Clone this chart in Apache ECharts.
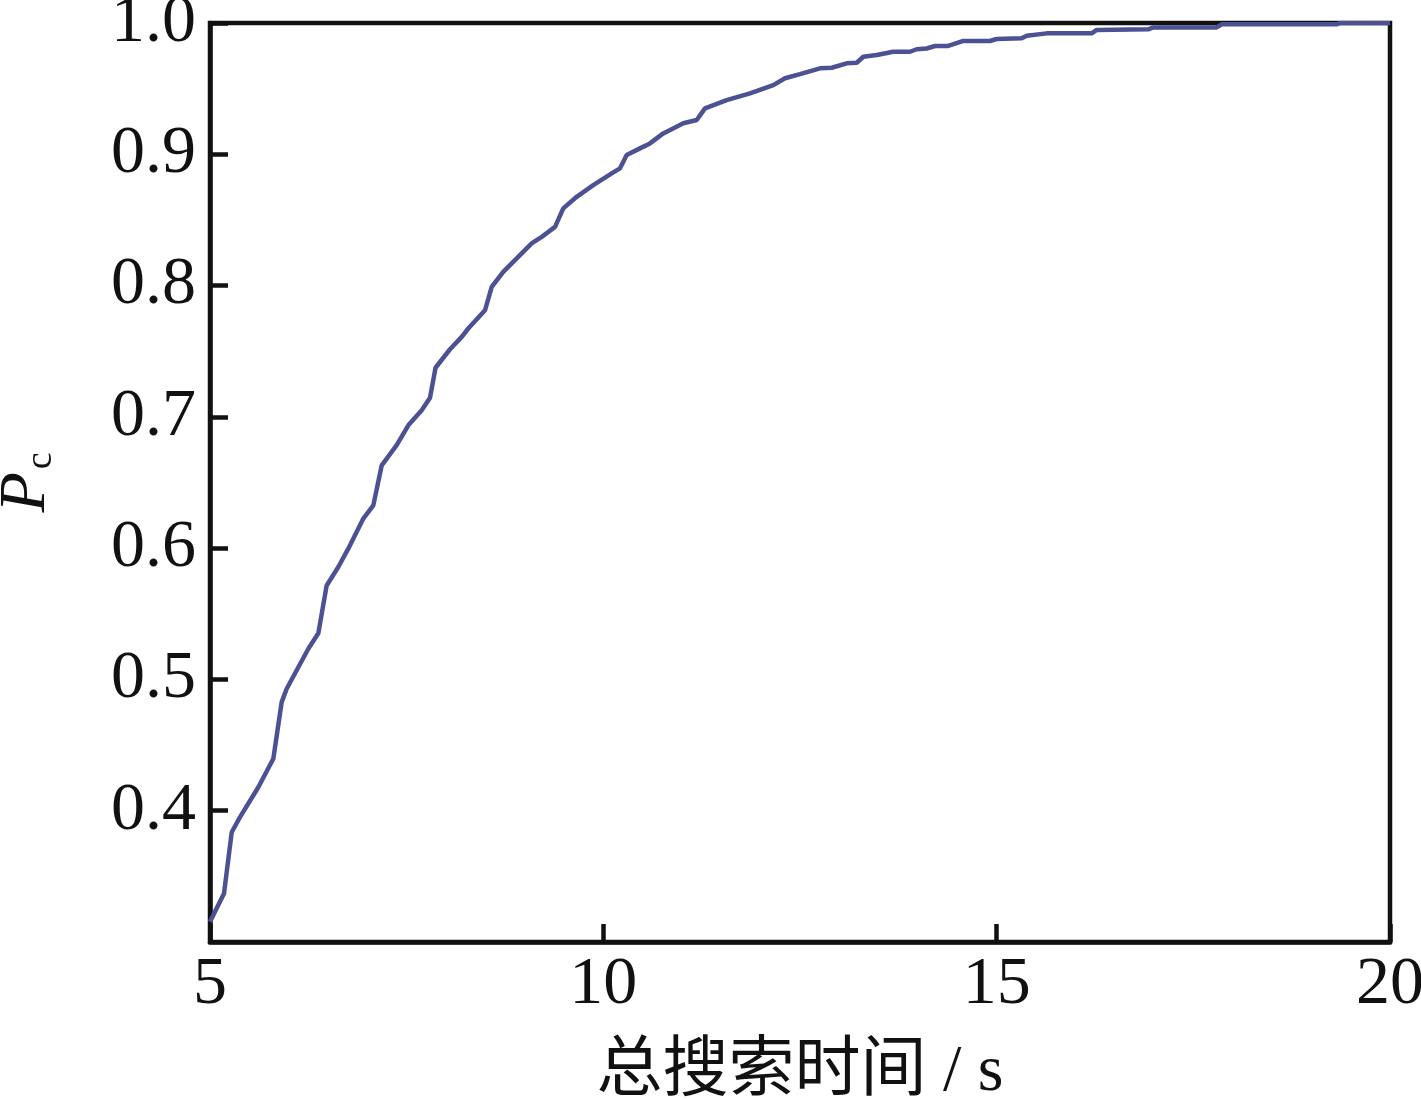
<!DOCTYPE html>
<html>
<head>
<meta charset="utf-8">
<script src="https://cdn.jsdelivr.net/npm/echarts@6/dist/echarts.min.js"></script>
<style>
html,body{margin:0;padding:0;background:#fff;}
#chart{width:1421px;height:1100px;}
</style>
</head>
<body>
<div id="chart"></div>
<script>
// Data
const searchTime = [5.00,5.178,5.276,5.381,5.614,5.805,5.911,5.975,6.250,6.377,6.483,6.631,6.758,6.949,7.076,7.183,7.373,7.521,7.691,7.797,7.867,8.051,8.200,8.283,8.496,8.581,8.728,8.899,9.089,9.217,9.386,9.491,9.661,9.872,10.106,10.212,10.297,10.466,10.593,10.762,11.017,11.187,11.292,11.568,11.864,12.161,12.309,12.500,12.754,12.903,13.094,13.221,13.305,13.475,13.686,13.898,13.983,14.110,14.216,14.385,14.576,14.915,15.000,15.318,15.382,15.636,16.208,16.272,16.928,16.991,17.797,17.860,19.322,19.364,20.00];
const pc = [0.3155,0.3369,0.3836,0.3951,0.4179,0.4396,0.4827,0.4929,0.5234,0.5351,0.5716,0.5856,0.5996,0.6225,0.6326,0.6631,0.6784,0.6936,0.7050,0.7146,0.7374,0.7515,0.7609,0.7673,0.7812,0.7990,0.8104,0.8207,0.8321,0.8371,0.8447,0.8588,0.8676,0.8765,0.8854,0.8893,0.8994,0.9045,0.9083,0.9159,0.9236,0.9261,0.9350,0.9413,0.9464,0.9527,0.9579,0.9611,0.9655,0.9659,0.9693,0.9697,0.9743,0.9756,0.9781,0.9781,0.9800,0.9806,0.9825,0.9825,0.9863,0.9863,0.9878,0.9883,0.9903,0.9921,0.9921,0.9947,0.9952,0.9966,0.9966,0.9990,0.9990,1.0,1.0];
const xTicks = {min:5, max:20, interval:5};
const yTicks = {min:0.3, max:1.0, interval:0.1};
const xName = '总搜索时间 / s';

const chart = echarts.init(document.getElementById('chart'), null, {renderer:'canvas'});
const font = '"Liberation Serif", "Times New Roman", "Noto Sans CJK SC", serif';
chart.setOption({
  backgroundColor:'#fff',
  animation:false,
  grid:{left:210, right:31, top:23, bottom:158, outerBoundsMode:'none', containLabel:false,
    show:true, borderColor:'#111', borderWidth:4.5, backgroundColor:'transparent'},
  xAxis:{
    type:'value', min:xTicks.min, max:xTicks.max, interval:xTicks.interval,
    axisLine:{show:true, lineStyle:{color:'#111', width:4.5}},
    axisTick:{show:true, inside:true, length:18, lineStyle:{color:'#111', width:4.5}},
    splitLine:{show:false},
    axisLabel:{color:'#111', fontFamily:font, fontSize:68, margin:9},
    name:xName, nameLocation:'middle', nameGap:98,
    nameTextStyle:{color:'#111', fontFamily:font, fontSize:66}
  },
  yAxis:{
    type:'value', min:yTicks.min, max:yTicks.max, interval:yTicks.interval,
    axisLine:{show:true, lineStyle:{color:'#111', width:4.5}},
    axisTick:{show:true, inside:true, length:18, lineStyle:{color:'#111', width:4.5}},
    splitLine:{show:false},
    axisLabel:{color:'#111', fontFamily:font, fontSize:68, margin:14, showMinLabel:false,
      formatter:v=>v.toFixed(1)},
    name:'{p|P}{sub|c}', nameLocation:'middle', nameGap:150, nameRotate:90,
    nameTextStyle:{rich:{
      p:{fontFamily:font, fontStyle:'italic', fontSize:66, lineHeight:66, color:'#111', verticalAlign:'top'},
      sub:{fontFamily:font, fontSize:38, lineHeight:38, color:'#111', verticalAlign:'bottom', padding:[34,0,0,3]}
    }}
  },
  series:[{
    type:'line', showSymbol:false, symbol:'none',
    data:searchTime.map((x,i)=>[x,pc[i]]),
    lineStyle:{color:'#4b5193', width:4.5},
    itemStyle:{color:'#4b5193'}
  }]
});
</script>
</body>
</html>
